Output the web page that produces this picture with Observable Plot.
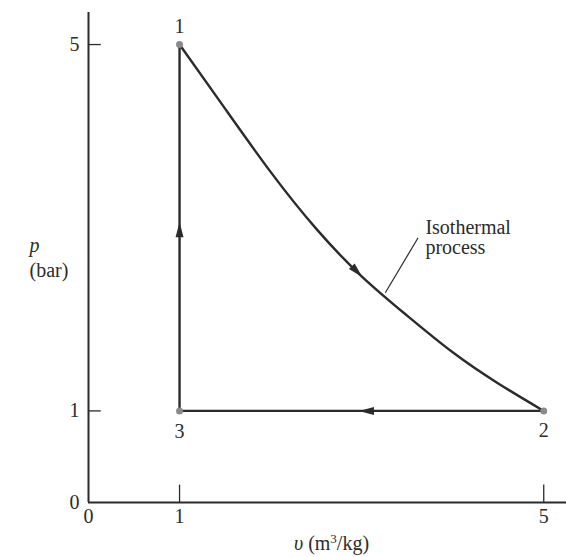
<!DOCTYPE html>
<html><head><meta charset="utf-8">
<script src="https://cdn.jsdelivr.net/npm/d3@7"></script>
<script src="https://cdn.jsdelivr.net/npm/@observablehq/plot@0.6"></script>
<style>body{margin:0;background:#fff} #chart svg{font-family:"Liberation Serif","Times New Roman",serif}</style>
</head><body><div id="chart"></div>
<script>
// state points
const stateV = [1, 5, 1];
const stateP = [5, 1, 1];
const stateLabels = ["1", "2", "3"];
// isothermal process curve 1 -> 2
const curveV = [1.0, 1.5, 2.0, 2.5, 3.0, 3.5, 4.0, 4.5, 5.0];
const curveP = [5.0, 4.30, 3.61, 2.99, 2.47, 2.04, 1.64, 1.30, 1.0];
// direction arrowheads
const arrowV = [1, 2.93, 3.08];
const arrowP = [2.95, 2.54, 1];
const arrowAngle = [0, 136, -90];
// ticks
const xTicks = [0, 1, 5];
const yTicks = [0, 1, 5];
const xMax = 5.25, yMax = 5.35;
const annotationText = "Isothermal\nprocess";
const xLabel = "υ (m3/kg)";
const yLabel = "p";
const yUnit = "(bar)";

const states = stateV.map((v, i) => ({v, p: stateP[i], label: stateLabels[i]}));
const curve = curveV.map((v, i) => ({v, p: curveP[i]}));
const arrows = arrowV.map((v, i) => ({v, p: arrowP[i], a: arrowAngle[i]}));
const labelDy = [-18, 20, 21];
const ink = "#2b2b2b";
const fs = 20;

const arrowHead = {
  draw(ctx, size) {
    const r = Math.sqrt(size / Math.PI);
    ctx.moveTo(0, -2 * r);
    ctx.lineTo(0.8 * r, r);
    ctx.lineTo(-0.8 * r, r);
    ctx.closePath();
  }
};

const chart = Plot.plot({
  width: 566,
  height: 557,
  marginLeft: 88,
  marginRight: 0,
  marginTop: 12,
  marginBottom: 55,
  x: {domain: [0, xMax], axis: null},
  y: {domain: [0, yMax], axis: null},
  style: {fontSize: fs + "px", background: "#fff", color: ink},
  marks: [
    // axes lines
    Plot.ruleY([0], {x1: 0, x2: xMax, stroke: ink, strokeWidth: 2}),
    Plot.ruleX([0], {y1: 0, y2: yMax, stroke: ink, strokeWidth: 2}),
    // tick marks pointing into the plot
    Plot.ruleX(xTicks.filter(d => d !== 0), {y1: 0, y2: 0.19, stroke: ink, strokeWidth: 1.3}),
    Plot.ruleY(yTicks.filter(d => d !== 0), {x1: 0, x2: 0.14, stroke: ink, strokeWidth: 1.3}),
    Plot.axisX(xTicks, {tickSize: 0, tickPadding: 6, fontSize: fs, label: null, tickFormat: d => String(d), fill: ink}),
    Plot.axisY(yTicks, {tickSize: 0, tickPadding: 9, fontSize: fs, label: null, tickFormat: d => String(d), fill: ink}),
    // cycle lines
    Plot.line(curve, {x: "v", y: "p", stroke: ink, strokeWidth: 2.4, curve: "natural"}),
    Plot.line([states[1], states[2], states[0]], {x: "v", y: "p", stroke: ink, strokeWidth: 2.4}),
    // arrowheads
    Plot.dot(arrows, {x: "v", y: "p", rotate: "a", symbol: arrowHead, r: 5, fill: ink, stroke: "none"}),
    // state points and labels
    Plot.dot(states, {x: "v", y: "p", r: 3.5, fill: "#8a8a8a", stroke: "none"}),
    ...states.map((s, i) => Plot.text([s], {x: "v", y: "p", text: "label", dy: labelDy[i], fontSize: fs, fill: ink})),
    // annotation
    Plot.link([{x1: 3.26, y1: 2.29, x2: 3.62, y2: 2.89}], {x1: "x1", y1: "y1", x2: "x2", y2: "y2", stroke: ink, strokeWidth: 1.2}),
    Plot.text([annotationText], {x: 3.70, y: 2.89, textAnchor: "start", lineHeight: 1.0, fontSize: fs, fill: ink}),
    // y axis label
    Plot.text([yLabel], {frameAnchor: "left", dx: -59, dy: -12, fontStyle: "italic", fontSize: fs, fill: ink}),
    Plot.text([yUnit], {frameAnchor: "left", dx: -59, dy: 13, fontSize: fs, fill: ink}),
    // x axis label
    Plot.text([xLabel], {frameAnchor: "bottom", dx: 4, dy: 47, fontSize: fs, fill: ink})
  ]
});

document.getElementById("chart").appendChild(chart);
// style the x label: italic υ and superscript 3
for (const t of chart.querySelectorAll("text")) {
  if (t.textContent === xLabel) {
    t.textContent = "";
    const ns = "http://www.w3.org/2000/svg";
    const a = document.createElementNS(ns, "tspan");
    a.setAttribute("font-style", "italic"); a.textContent = "υ";
    const b = document.createElementNS(ns, "tspan"); b.textContent = " (m";
    const c = document.createElementNS(ns, "tspan");
    c.setAttribute("dy", "-7"); c.setAttribute("font-size", "13"); c.textContent = "3";
    const d = document.createElementNS(ns, "tspan");
    d.setAttribute("dy", "7"); d.textContent = "/kg)";
    t.append(a, b, c, d);
  }
}
</script>
</body></html>
